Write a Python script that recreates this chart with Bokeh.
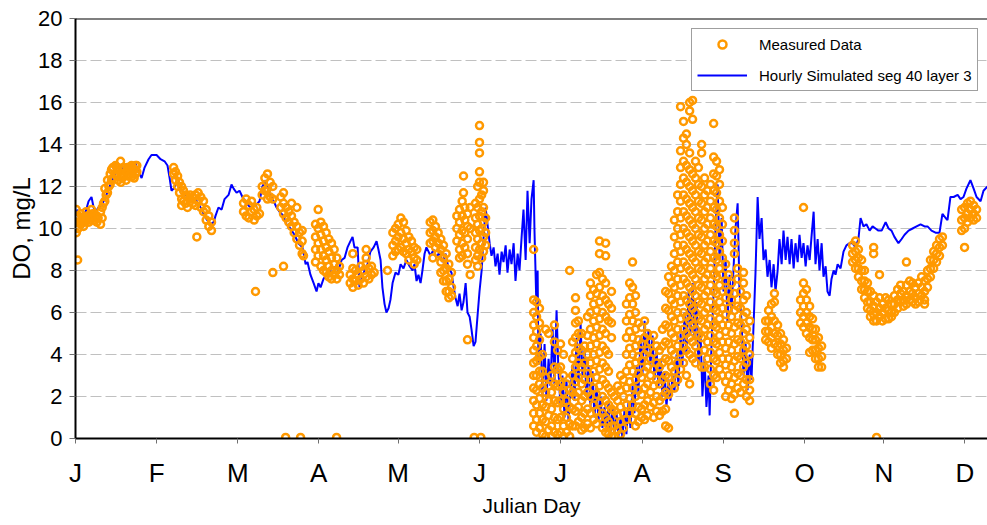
from bokeh.plotting import figure
from bokeh.models import FixedTicker, Legend, LegendItem, Span, Range1d
from bokeh.embed import file_html
from bokeh.resources import INLINE

# ---------------- Simulated (hourly) DO, seg 40 layer 3 ----------------
sim_day_winter = [0.0, 0.8, 1.5, 2.6, 3.8, 4.9, 6.0, 6.8, 7.5, 8.6,
                  9.8, 11.3, 13.1, 15.0, 16.9, 18.8, 20.6, 22.5, 23.6, 24.8,
                  25.9, 27.4, 28.5, 30.4, 31.9, 33.4, 34.5, 35.3, 36.0, 36.8,
                  37.9, 39.4, 41.3, 43.1, 45.0, 46.9, 48.8, 50.6, 51.8]
sim_do_winter = [10.6, 10.9, 10.3, 10.6, 10.8, 11.3, 11.5, 11.0, 10.8, 11.0,
                 11.1, 11.5, 12.1, 12.6, 12.9, 12.8, 12.6, 13.1, 12.7, 12.4,
                 12.9, 13.3, 13.5, 13.5, 13.3, 13.2, 13.0, 12.4, 11.8, 11.9,
                 12.2, 11.9, 11.6, 11.3, 11.4, 11.0, 10.5, 10.2, 10.3]

sim_day_spring = [52.5, 53.6, 54.8, 55.9, 57.4, 58.5, 59.3, 60.4, 61.5, 62.6,
                  64.1, 65.6, 67.5, 69.0, 70.1, 71.3, 72.4, 73.5, 74.3, 75.4,
                  76.5, 78.0, 79.1, 80.6, 82.1, 83.6, 85.1, 86.3, 87.0, 88.1,
                  89.3, 90.4, 91.1, 91.9, 93.0, 94.1, 95.3, 96.4, 97.5, 98.6,
                  99.8, 100.9, 102.0, 103.1]
sim_do_spring = [10.6, 11.0, 10.9, 11.4, 11.6, 12.1, 11.9, 11.7, 11.8, 11.5,
                 11.2, 11.0, 11.1, 11.3, 12.0, 12.3, 11.8, 11.5, 11.3, 11.0,
                 10.8, 10.6, 10.2, 10.0, 9.7, 9.3, 9.1, 8.3, 8.4, 7.8,
                 7.4, 7.0, 7.4, 7.2, 7.6, 7.8, 8.0, 7.9, 8.2, 8.0,
                 8.5, 8.6, 9.1, 9.4]

sim_day_early_summer = [103.9, 104.6, 105.8, 106.5, 107.3, 108.4, 109.5, 110.6, 111.8, 112.9,
                        113.6, 114.4, 115.1, 115.9, 116.6, 117.4, 118.1, 118.9, 120.0, 121.1,
                        121.9, 123.0, 124.1, 125.3, 126.4, 127.1, 127.9, 128.6, 129.4, 130.1,
                        130.9, 131.6, 132.4, 133.1, 134.3, 135.4, 136.5, 137.6, 138.8, 139.9,
                        141.0, 141.8, 142.5, 143.3, 144.0, 144.8, 145.5, 146.3, 147.0, 147.8,
                        148.5, 149.3, 150.0, 150.8, 151.5, 152.3, 153.0, 153.8, 154.5, 155.3,
                        156.0, 156.8, 157.5, 158.3, 159.0, 159.8, 160.5, 161.3, 162.0, 162.8,
                        163.5, 164.3, 165.0, 165.8, 166.5, 167.3, 168.0, 168.8, 169.5, 170.3,
                        171.0, 171.8]
sim_do_early_summer = [9.6, 9.1, 9.1, 7.2, 7.6, 8.0, 8.3, 8.9, 9.1, 9.4,
                       9.0, 8.5, 7.2, 6.4, 6.0, 6.2, 6.6, 7.4, 7.9, 7.8,
                       8.3, 8.1, 8.5, 8.2, 8.0, 8.3, 7.5, 7.8, 7.4, 8.0,
                       8.8, 9.1, 8.9, 8.7, 9.0, 8.6, 8.9, 8.4, 8.8, 8.1,
                       7.9, 7.2, 6.7, 6.3, 6.9, 6.1, 6.5, 7.4, 6.0, 5.8,
                       5.2, 4.4, 4.6, 5.9, 7.0, 8.0, 9.5, 11.0, 10.2, 9.3,
                       8.7, 9.1, 8.2, 8.8, 7.8, 8.9, 8.4, 9.2, 7.9, 9.0,
                       8.3, 9.3, 7.5, 8.8, 8.0, 9.6, 10.9, 8.5, 11.8, 9.3,
                       11.4, 12.3]

sim_day_summer = [172.1, 172.9, 173.3, 173.6, 174.4, 175.1, 175.9, 176.6, 177.4, 178.1,
                  178.9, 179.6, 180.4, 181.1, 181.9, 182.6, 183.4, 184.1, 184.9, 185.6,
                  186.4, 187.1, 187.9, 188.6, 189.4, 190.1, 190.9, 191.6, 192.4, 193.1,
                  193.9, 194.6, 195.4, 196.1, 196.9, 197.6, 198.4, 199.1, 199.9, 200.6,
                  201.4, 202.1, 202.9, 203.6, 204.4, 205.1, 205.9, 206.6, 207.4, 208.1,
                  208.9, 209.6, 210.4, 211.1, 211.9, 212.6, 213.4, 214.1, 214.9, 215.6,
                  216.4, 217.1, 217.9, 218.6, 219.4, 220.1, 220.9, 221.6, 222.4, 223.1,
                  223.9, 224.6, 225.4, 226.1, 226.9, 227.6, 228.4, 229.1, 229.9, 230.6,
                  231.4, 232.1, 232.9, 233.6, 234.4, 235.1, 235.9, 236.6, 237.4, 237.8,
                  238.5, 239.3, 240.0, 240.8, 241.5, 242.3, 243.0, 243.8, 244.5, 245.3,
                  246.0, 246.8, 247.5, 248.3, 249.0, 249.8, 250.5, 251.3, 252.0, 252.8,
                  253.5, 254.3, 255.0, 255.8]
sim_do_summer = [10.0, 6.0, 8.0, 3.5, 5.0, 2.0, 4.5, 1.8, 3.8, 2.5,
                 5.3, 2.6, 6.1, 3.2, 1.5, 3.0, 1.0, 2.8, 0.8, 2.2,
                 3.5, 1.8, 4.8, 2.5, 5.5, 3.0, 4.2, 2.0, 3.5, 1.5,
                 3.2, 1.0, 2.5, 0.8, 2.0, 0.5, 1.5, 0.3, 1.8, 0.1,
                 1.5, 0.2, 1.2, 0.1, 1.0, 0.0, 1.4, 0.2, 1.8, 0.5,
                 2.5, 1.2, 3.5, 2.2, 4.8, 3.0, 5.6, 3.9, 5.2, 3.5,
                 4.9, 2.8, 4.2, 2.5, 3.8, 2.0, 3.2, 1.5, 2.8, 1.8,
                 3.0, 2.2, 4.0, 2.5, 5.0, 3.5, 6.0, 4.0, 7.0, 5.0,
                 7.4, 4.8, 6.5, 3.5, 5.0, 2.0, 3.8, 1.5, 3.0, 1.1,
                 4.5, 7.0, 10.0, 12.1, 8.5, 10.5, 7.0, 8.6, 5.5, 7.8,
                 6.0, 8.2, 10.0, 11.2, 7.0, 5.5, 3.0, 4.5, 2.3, 4.0,
                 2.8, 5.5, 7.9, 11.5]

sim_day_fall = [256.5, 257.3, 258.0, 258.8, 259.5, 260.3, 261.0, 261.8, 262.5, 263.3,
                264.0, 264.8, 265.5, 266.3, 267.0, 267.8, 268.5, 269.3, 270.0, 270.8,
                271.5, 272.3, 273.0, 273.8, 274.5, 275.3, 276.0, 276.8, 277.5, 278.3,
                279.0, 279.8, 280.5, 281.3, 282.0, 282.8, 283.5, 284.3, 285.0, 285.8,
                286.9, 288.0, 289.1, 290.3, 291.4, 292.5, 293.6, 294.4, 295.5, 296.6,
                297.8, 298.9, 300.0, 301.1, 302.3, 303.8, 304.9, 306.0, 307.1, 308.6,
                309.8, 310.9, 312.4, 313.9, 315.4, 316.9, 318.4, 319.5, 321.0, 322.5,
                324.0, 325.1, 326.3, 327.0, 328.1, 329.3, 330.8, 331.9, 333.0, 334.1,
                335.6, 336.8, 337.9, 339.4, 340.5, 342.0]
sim_do_fall = [9.5, 10.5, 8.5, 9.0, 7.7, 8.5, 7.2, 8.3, 7.0, 8.0,
               9.5, 8.3, 9.9, 8.5, 9.6, 8.3, 9.5, 8.1, 9.3, 8.4,
               9.7, 8.6, 9.3, 8.2, 9.2, 8.5, 9.6, 10.8, 8.3, 9.5,
               8.0, 9.3, 7.7, 8.2, 7.0, 6.8, 7.6, 8.0, 7.8, 8.3,
               8.1, 8.9, 9.2, 9.3, 9.3, 9.1, 9.5, 10.5, 10.1, 10.2,
               9.9, 10.1, 10.0, 9.9, 9.9, 10.3, 10.0, 9.9, 9.6, 9.3,
               9.5, 9.7, 9.9, 10.0, 10.1, 10.2, 10.1, 10.1, 9.9, 9.8,
               9.8, 10.7, 10.5, 10.4, 11.5, 11.5, 11.6, 11.4, 11.5, 11.9,
               12.3, 11.9, 11.5, 11.3, 11.8, 12.0]

# ---------------- Measured DO: (julian day, [values measured that day]) ----------------
meas_jan = [
    (0.3, [10.9, 10.3, 9.8]), (0.6, [10.5]), (0.8, [8.5]), (1.0, [10.6, 10.0]), (1.5, [10.3]),
    (2.0, [10.2, 10.7]), (2.5, [10.5]), (3.0, [10.1, 10.5]), (3.5, [10.3]), (4.0, [10.4, 10.8]),
    (4.5, [10.6]), (5.0, [10.3, 10.6]), (5.5, [10.4]), (6.0, [10.5, 10.9]), (6.5, [10.7]),
    (7.0, [10.4, 10.7]), (7.5, [10.5]), (8.0, [10.6, 10.3]), (8.5, [10.5]), (9.4, [10.2, 10.8]),
    (10.0, [11.0, 10.5]), (10.5, [11.2]), (11.0, [11.3, 11.9]), (11.5, [11.6]), (12.0, [11.7, 12.3]),
    (12.5, [12.0]), (13.0, [12.1, 12.6]), (13.5, [12.3, 12.8]), (14.0, [12.4, 12.9]),
    (15.0, [12.6, 13.0]), (15.5, [12.5, 12.9]), (16.0, [12.3, 12.8]), (16.9, [13.2]),
    (17.0, [12.6, 12.2]), (17.5, [12.4, 12.8]), (18.0, [12.5, 12.9]), (19.0, [12.3, 12.7]),
    (19.5, [12.5, 12.9]), (20.0, [12.5, 12.9]), (21.0, [12.7, 13.0]), (21.5, [12.5, 12.9]),
    (22.0, [12.4, 12.8]), (22.5, [12.6, 13.0]), (23.0, [12.7, 13.0]),
]
meas_feb = [
    (36.8, [12.9, 12.6]), (37.5, [12.7, 12.3]), (38.3, [12.5, 12.0]), (39.0, [12.2, 11.7]),
    (39.8, [12.0, 11.4, 11.1]), (40.5, [11.8, 11.3]), (41.3, [11.6, 11.2]), (42.0, [11.5, 11.0]),
    (43.0, [11.4, 11.6]), (44.0, [11.2, 11.5]), (45.0, [11.1, 11.6]), (45.5, [9.6]),
    (46.0, [11.3, 11.7]), (47.0, [11.0, 11.5]), (48.0, [10.8, 11.3]), (49.0, [10.4, 10.9]),
    (50.0, [10.1, 10.6]), (51.0, [9.9, 10.3]),
]
meas_mar = [
    (63.0, [11.2, 10.8]), (64.0, [11.4, 10.6]), (65.0, [11.1, 10.5]), (66.0, [11.3, 10.8]),
    (67.0, [10.9, 10.4]), (67.5, [7.0]), (68.0, [11.0, 10.6]), (69.0, [10.7]),
    (70.0, [12.0, 11.6]), (71.0, [12.4, 11.8]), (72.0, [12.6, 11.9, 11.4]), (73.0, [12.2, 11.5]),
    (74.0, [12.0, 11.4, 7.9]),
    (77.0, [11.5, 11.0]), (78.0, [11.2, 10.7, 11.7, 8.2]), (78.8, [0.05]), (79.0, [11.0, 10.5]),
    (80.0, [10.8, 10.3]), (81.0, [10.6, 10.1, 11.2]), (82.0, [10.3, 9.8]), (83.0, [10.1, 9.5, 11.0]),
    (84.0, [9.8, 9.2]), (84.4, [0.05]), (85.0, [9.4, 8.8, 9.9]), (85.5, [8.7]),
]
meas_apr = [
    (90.0, [10.2, 9.6, 9.0, 8.4]), (91.0, [10.9, 10.0, 9.3, 8.7]), (92.0, [10.3, 9.7, 9.0, 8.2]),
    (93.0, [10.1, 9.4, 8.7, 8.0]), (94.0, [9.8, 9.1, 8.5, 7.9]), (95.0, [9.5, 8.9, 8.2, 7.7]),
    (96.0, [9.3, 8.6, 8.0, 7.6]), (97.0, [9.0, 8.3, 7.8]), (97.9, [0.05]), (98.0, [8.6, 8.0, 7.6]),
    (99.0, [8.2, 7.8]),
    (103.0, [7.8, 7.4]), (104.0, [8.1, 7.6, 7.2, 8.8]), (105.0, [8.0, 7.5]), (106.0, [7.8, 7.3]),
    (107.0, [8.2, 7.6]), (108.0, [8.0, 7.4]), (109.0, [8.3, 7.7, 9.0, 8.6]), (110.0, [8.1, 7.6]),
    (111.0, [8.2, 7.8]), (112.0, [7.9]), (117.0, [8.0]),
]
meas_may = [
    (119.0, [9.8, 9.2, 8.7]), (120.0, [10.0, 9.4, 8.9]), (121.0, [10.2, 9.6, 9.0]),
    (122.0, [10.5, 9.8, 9.1]), (123.0, [10.3, 9.5, 8.9]), (124.0, [9.9, 9.3, 8.8]),
    (125.0, [9.6, 9.0, 8.5]), (126.0, [9.4, 8.9]), (127.0, [9.1, 8.6, 8.3]), (128.0, [9.0, 8.5]),
    (133.0, [10.3, 9.8, 9.3]), (134.0, [10.4, 9.9, 9.4, 8.6]), (135.0, [10.1, 9.6, 9.1]),
    (136.0, [9.8, 9.3, 8.8]), (137.0, [9.5, 9.0, 8.4, 7.9]), (138.0, [9.2, 8.6, 8.0, 7.5]),
    (139.0, [8.8, 8.1, 7.5, 7.0]), (140.0, [8.3, 7.6, 7.0, 6.7]), (141.0, [7.9, 7.2, 6.8]),
    (143.0, [10.6, 10.0, 9.4]), (144.0, [10.9, 10.3, 9.7, 9.0, 8.6]),
    (145.0, [11.3, 10.6, 9.9, 9.3, 8.7]), (145.5, [12.5, 11.7]),
    (146.0, [11.0, 10.4, 9.8, 9.1]), (147.0, [10.7, 10.1, 9.5, 8.8, 8.3, 4.7]),
    (148.0, [11.0, 10.0, 7.8]),
]
meas_jun = [
    (149.5, [0.05]), (150.0, [11.2, 10.5, 9.8, 9.1, 8.5]), (150.8, [12.0, 11.0, 10.2, 9.5, 8.7, 8.2]),
    (151.5, [14.9, 14.1, 13.6, 12.7, 12.2, 11.4, 10.6, 9.9, 9.0]), (152.0, [0.05]),
    (152.3, [11.6, 10.8, 10.0, 9.3, 8.6]), (153.0, [12.2, 11.8, 11.0, 10.3, 9.6, 8.9]),
    (153.8, [10.5, 9.8, 9.2]),
]
meas_jul = [
    (171.8, [9.0, 6.6, 6.0, 5.4, 4.8, 4.2, 3.6, 3.0, 2.4, 1.8, 1.2, 0.6]),
    (172.9, [6.5, 5.8, 5.1, 4.4, 3.7, 3.0, 2.3, 1.6, 0.9, 0.3]),
    (174.0, [6.2, 5.5, 4.7, 3.9, 3.2, 2.6, 1.9, 1.2, 0.5]),
    (175.1, [4.0, 3.2, 2.4, 1.6, 0.9, 0.2]),
    (176.3, [5.2, 2.9, 2.2, 1.5, 0.8, 0.1]),
    (177.4, [5.0, 2.5, 1.8, 1.1, 0.4]),
    (178.5, [3.0, 2.2, 1.4, 0.6, 0.1]),
    (179.6, [5.4, 4.6, 3.4, 2.6, 1.8, 1.0, 0.3]),
    (180.8, [4.2, 3.3, 2.5, 1.7, 0.9, 0.2]),
    (181.9, [4.5, 3.4, 2.6, 1.8, 1.0, 0.3]),
    (183.0, [4.0, 3.0, 2.2, 1.4, 0.6, 0.1]),
    (184.1, [2.6, 1.8, 1.0, 0.3]),
    (185.3, [8.0, 2.3, 1.5, 0.7, 0.1]),
    (186.4, [4.6, 3.8, 3.0, 2.2, 1.4, 0.6]),
    (187.5, [6.7, 6.1, 5.5, 4.8, 4.1, 3.4, 2.7, 2.0, 1.3, 0.6]),
    (188.6, [5.6, 5.0, 4.3, 3.6, 2.9, 2.2, 1.5, 0.8]),
    (189.8, [5.0, 4.2, 3.4, 2.6, 1.8, 1.0, 0.4]),
    (190.9, [4.4, 3.6, 2.8, 2.0, 1.2, 0.5]),
    (192.0, [5.8, 4.9, 4.0, 3.1, 2.2, 1.4, 0.7]),
    (193.1, [7.4, 6.8, 6.0, 5.2, 4.4, 3.6, 2.8, 2.0, 1.2, 0.5]),
    (194.3, [7.1, 6.4, 5.6, 4.8, 4.0, 3.2, 2.4, 1.6, 0.9]),
    (195.4, [7.8, 6.9, 6.1, 5.3, 4.5, 3.7, 2.9, 2.1, 1.3, 0.7]),
    (196.5, [9.4, 8.8, 7.9, 7.2, 6.5, 5.7, 4.9, 4.1, 3.3, 2.5, 1.7, 1.0]),
    (197.6, [7.6, 6.8, 6.0, 5.2, 4.4, 3.6, 2.8, 2.0, 1.2, 0.5]),
    (198.8, [9.3, 8.7, 7.4, 6.6, 5.8, 5.0, 4.2, 3.4, 2.6, 1.8, 1.0, 0.3]),
    (199.9, [6.4, 5.6, 4.0, 3.2, 2.4, 1.6, 0.8, 0.2]),
    (201.0, [7.0, 6.2, 5.5, 4.8, 2.2, 1.4, 0.6, 0.1]),
    (202.1, [2.0, 1.3, 0.6, 0.1]),
    (203.3, [2.5, 1.8, 1.1, 0.4]),
    (204.4, [3.0, 2.3, 1.5, 0.8, 0.2]),
    (205.5, [2.8, 2.0, 1.2, 0.5]),
    (206.6, [6.4, 5.6, 4.8, 4.0, 3.2, 2.4, 1.6, 0.9]),
    (207.8, [7.4, 6.7, 5.9, 5.1, 4.3, 3.5, 2.7, 1.9, 1.2]),
    (208.9, [8.4, 7.2, 6.4, 5.6, 4.8, 4.0, 3.2, 2.4, 1.6, 0.9]),
    (210.0, [6.8, 6.0, 5.2, 4.4, 3.6, 2.8, 2.0, 1.2, 0.6]),
]
meas_aug = [
    (211.1, [5.5, 4.7, 3.9, 3.1, 2.3, 1.5, 0.8]),
    (212.3, [5.3, 4.5, 3.7, 2.9, 2.1, 1.4, 1.0]),
    (213.4, [5.6, 4.8, 4.0, 3.2, 2.4, 1.6, 0.9]),
    (214.5, [5.0, 4.2, 3.4, 2.6, 1.8, 1.1]),
    (215.6, [4.6, 3.8, 3.0, 2.2, 1.5]),
    (216.8, [4.9, 4.1, 3.3, 2.5, 1.7, 1.0]),
    (217.9, [4.4, 3.6, 2.8, 2.0, 1.3]),
    (219.0, [4.2, 3.4, 2.6, 1.8, 1.1]),
    (220.1, [5.2, 4.4, 3.6, 2.8, 2.0, 1.3]),
    (221.3, [7.0, 6.2, 5.4, 4.6, 3.8, 3.0, 2.2, 1.4, 0.6]),
    (222.4, [7.7, 6.9, 6.1, 5.3, 4.5, 3.7, 2.9, 2.1, 0.5]),
    (223.5, [8.2, 7.4, 6.6, 5.8, 5.0, 4.2, 3.4, 2.6]),
    (224.6, [10.4, 9.6, 8.8, 8.0, 7.2, 6.4, 5.6, 4.8, 4.0, 3.2, 2.4]),
    (225.8, [11.6, 10.8, 10.0, 9.2, 8.4, 7.6, 6.8, 6.0, 5.2, 4.4, 3.6, 2.8]),
    (226.9, [15.8, 13.7, 12.9, 12.1, 11.3, 10.5, 9.7, 8.9, 8.1, 7.3, 6.5, 5.7, 4.9, 4.1, 3.3]),
    (228.0, [15.1, 14.3, 13.2, 12.4, 11.6, 10.8, 10.0, 9.2, 8.4, 7.6, 6.8, 6.0, 5.2, 4.4, 3.6]),
    (229.1, [14.5, 14.0, 13.0, 12.2, 11.4, 10.6, 9.8, 9.0, 8.2, 7.4, 6.6, 5.8, 5.0, 4.2, 3.0]),
    (230.3, [16.0, 15.6, 13.6, 12.8, 12.0, 11.2, 10.4, 9.6, 8.8, 8.0, 7.2, 6.4, 5.6, 4.8, 4.0, 2.6]),
    (231.4, [16.1, 15.2, 12.6, 11.8, 11.0, 10.2, 9.4, 8.6, 7.8, 7.0, 6.2, 5.4, 4.6, 3.8]),
    (232.5, [13.2, 12.4, 11.6, 10.8, 10.0, 9.2, 8.4, 7.6, 6.8, 6.0, 5.2, 4.4, 3.6]),
    (233.6, [12.9, 12.1, 11.3, 10.5, 9.7, 8.9, 8.1, 7.3, 6.5, 5.7, 4.9, 4.1]),
    (234.8, [14.0, 13.6, 12.0, 11.2, 10.4, 9.6, 8.8, 8.0, 7.2, 6.4, 5.6, 4.8, 3.4]),
    (235.9, [12.4, 11.6, 10.8, 10.0, 9.2, 8.4, 7.6, 6.8, 6.0, 5.2, 4.2, 3.4]),
    (237.0, [11.8, 11.0, 10.2, 9.4, 8.6, 7.8, 7.0, 6.2, 5.4, 4.6, 3.8]),
    (238.1, [12.1, 11.3, 10.5, 9.7, 8.9, 8.1, 7.3, 6.5, 5.7, 4.9, 4.1, 3.3, 2.6]),
    (239.3, [15.0, 13.4, 12.6, 11.8, 11.0, 10.2, 9.4, 8.6, 7.8, 7.0, 6.2, 5.4, 4.6, 3.8, 3.0, 2.3]),
    (240.4, [13.2, 12.5, 11.7, 10.9, 10.1, 9.3, 8.5, 7.7, 6.9, 6.1, 5.3, 4.5, 3.7, 2.9]),
    (241.5, [12.8, 12.1, 11.3, 10.5, 9.7, 8.9, 8.1, 7.3, 6.5, 5.7, 4.9, 4.1, 3.3]),
    (242.6, [11.0, 10.2, 9.4, 8.6, 7.8, 7.0, 6.2, 5.4, 4.6, 3.8, 3.0]),
]
meas_sep = [
    (243.8, [8.3, 7.5, 6.7, 5.9, 5.1, 4.3, 3.5, 2.7, 2.0]),
    (244.9, [7.8, 7.0, 6.2, 5.4, 4.6, 3.8, 3.0, 2.3]),
    (246.0, [7.4, 6.6, 5.8, 5.0, 4.2, 3.4, 2.6, 1.9]),
    (247.1, [10.5, 9.9, 9.3, 8.8, 6.9, 6.1, 5.3, 4.5, 3.7, 2.9, 2.1, 1.2]),
    (248.3, [8.1, 7.6, 6.3, 5.5, 4.7, 3.9, 3.1, 2.4]),
    (249.4, [7.0, 6.2, 5.4, 4.6, 3.8, 3.0, 2.2]),
    (250.5, [7.9, 7.4, 6.6, 5.8, 5.0, 4.2, 3.4, 2.6]),
    (251.6, [6.8, 6.0, 5.2, 4.4, 3.6, 2.8, 2.0]),
    (252.8, [5.6, 4.8, 4.0, 2.8, 2.3, 1.8]),
    (258.8, [5.6, 5.1, 4.7]), (259.9, [6.1, 5.6, 5.1, 4.6]), (261.0, [6.4, 5.8, 5.3, 4.8, 4.3]),
    (262.1, [6.9, 6.5, 5.6, 5.0, 4.5]), (263.3, [5.4, 4.9, 4.4, 4.0]), (264.4, [5.0, 4.5, 4.0, 3.6]),
    (265.5, [4.7, 4.2, 3.7, 3.4]), (266.6, [4.3, 3.8]),
]
meas_oct = [
    (271.9, [6.6, 6.0, 5.5]), (273.0, [7.4, 6.9, 6.3, 5.8, 5.3, 11.0]), (274.1, [7.1, 6.6, 6.0, 5.5, 5.0]),
    (275.3, [6.3, 5.8, 5.3, 4.8, 4.1]), (276.4, [5.7, 5.2, 4.7, 4.2]), (277.5, [5.2, 4.7, 4.2, 3.8]),
    (278.6, [4.8, 4.3, 3.8, 3.4]), (279.8, [4.4, 3.9, 3.4]),
]
meas_nov = [
    (291.4, [9.2, 8.8, 8.4]), (292.5, [9.4, 8.9, 8.5, 8.1]), (293.6, [9.0, 8.6, 8.1, 7.7]),
    (294.8, [8.5, 8.0, 7.5, 7.1]), (295.9, [8.0, 7.5, 7.1, 6.7]), (297.0, [7.4, 7.0, 6.5, 6.2]),
    (298.1, [7.0, 6.5, 6.1, 5.8]), (299.3, [6.8, 6.3, 5.9, 5.6, 9.1, 8.8]), (300.4, [6.5, 6.0, 5.6, 0.05]),
    (301.5, [6.7, 6.2, 5.8, 7.8]), (302.6, [6.4, 6.0, 5.6]), (303.8, [6.7, 6.2, 5.7]),
    (304.9, [6.6, 6.1, 5.7]), (306.0, [6.4, 6.0, 5.8]), (307.1, [6.8, 6.4, 6.0]),
    (308.3, [7.1, 6.6, 6.2]), (309.4, [7.3, 6.9, 6.5]), (310.5, [7.0, 6.6, 6.3]),
    (311.6, [7.3, 6.8, 6.4, 8.4]), (312.8, [7.5, 7.0, 6.6]), (313.9, [7.4, 6.9, 6.5]),
    (315.0, [7.2, 6.7, 6.4]), (316.1, [7.4, 6.9, 6.5]), (317.3, [7.7, 7.2, 6.8]),
    (318.4, [7.5, 7.0, 6.6, 6.4]), (319.5, [8.0, 7.6, 7.2]), (320.6, [8.5, 8.1, 7.7]),
    (321.8, [8.9, 8.5, 8.1]), (322.9, [9.2, 8.8, 8.4]), (324.0, [9.5, 9.1, 8.7]),
    (325.1, [9.6, 9.2]),
]
meas_dec = [
    (332.3, [10.9, 10.4, 9.9]), (333.4, [11.0, 10.5, 10.0, 9.1]), (334.5, [11.2, 10.7, 10.3]),
    (335.6, [11.3, 10.9, 10.5]), (336.8, [11.1, 10.7, 10.4]), (337.9, [10.9, 10.5]),
]

# ---------------- Axes ----------------
month_ticks = [0.0, 30.4, 60.9, 91.2, 121.0, 151.5, 181.9, 212.5, 242.9, 273.4, 303.1, 333.5]
month_labels = ["J", "F", "M", "A", "M", "J", "J", "A", "S", "O", "N", "D"]
y_ticks = [0, 2, 4, 6, 8, 10, 12, 14, 16, 18, 20]

sim_day = sim_day_winter + sim_day_spring + sim_day_early_summer + sim_day_summer + sim_day_fall
sim_do = sim_do_winter + sim_do_spring + sim_do_early_summer + sim_do_summer + sim_do_fall

meas_x, meas_y = [], []
for cluster in [meas_jan, meas_feb, meas_mar, meas_apr, meas_may, meas_jun,
                meas_jul, meas_aug, meas_sep, meas_oct, meas_nov, meas_dec]:
    for d, vals in cluster:
        for v in vals:
            meas_x.append(d)
            meas_y.append(v)

p = figure(width=987, height=525, x_range=Range1d(0, 342), y_range=Range1d(0, 20),
           output_backend="svg", toolbar_location=None,
           min_border_left=75, min_border_right=0, min_border_top=18, min_border_bottom=87)
p.outline_line_color = None
p.background_fill_color = "white"
p.border_fill_color = "white"

r_line = p.line(sim_day, sim_do, line_color="#0000FF", line_width=2)
r_meas = p.scatter(meas_x, meas_y, marker="circle", size=7, line_color="#FF9900",
                   line_width=2.5, fill_color=None)

p.xgrid.grid_line_color = None
p.ygrid.grid_line_color = "#C0C0C0"
p.ygrid.grid_line_dash = "11 4"
p.ygrid.grid_line_width = 1

p.add_layout(Span(location=20, dimension="width", line_color="black", line_width=2))

for ax in (p.xaxis[0], p.yaxis[0]):
    ax.axis_line_color = "black"
    ax.axis_line_width = 2
    ax.major_tick_line_color = "#707070"
    ax.major_tick_in = 0
    ax.minor_tick_line_color = None
    ax.major_label_text_color = "black"
    ax.axis_label_text_color = "black"
    ax.axis_label_text_font_style = "normal"

p.yaxis.ticker = FixedTicker(ticks=y_ticks)
p.yaxis.major_tick_out = 6
p.yaxis.major_label_standoff = 7
p.yaxis.major_label_text_font = "Liberation Sans"
p.yaxis.major_label_text_font_size = "22px"
p.yaxis.axis_label = "DO, mg/L"
p.yaxis.axis_label_text_font = "Liberation Sans"
p.yaxis.axis_label_text_font_size = "24px"
p.yaxis.axis_label_standoff = 0

p.xaxis.ticker = FixedTicker(ticks=month_ticks)
p.xaxis.major_label_overrides = {t: l for t, l in zip(month_ticks, month_labels)}
p.xaxis.major_tick_out = 5
p.xaxis.major_label_standoff = 14
p.xaxis.major_label_text_font = "Liberation Sans"
p.xaxis.major_label_text_font_size = "26px"
p.xaxis.axis_label = "Julian Day"
p.xaxis.axis_label_text_font = "Liberation Sans"
p.xaxis.axis_label_text_font_size = "21px"
p.xaxis.axis_label_standoff = 3

legend = Legend(items=[LegendItem(label="Measured Data", renderers=[r_meas]),
                       LegendItem(label="Hourly Simulated seg 40 layer 3", renderers=[r_line])],
                location=(616, 347))
legend.border_line_color = "#404040"
legend.border_line_width = 1
legend.background_fill_color = "white"
legend.background_fill_alpha = 1.0
legend.padding = 5
legend.margin = 0
legend.spacing = 11
legend.glyph_width = 50
legend.glyph_height = 20
legend.label_height = 20
legend.label_standoff = 12
legend.label_text_font = "Liberation Sans"
legend.label_text_font_size = "15px"
legend.label_text_color = "black"
p.add_layout(legend)

open("out.html", "w").write(file_html(p, INLINE))
